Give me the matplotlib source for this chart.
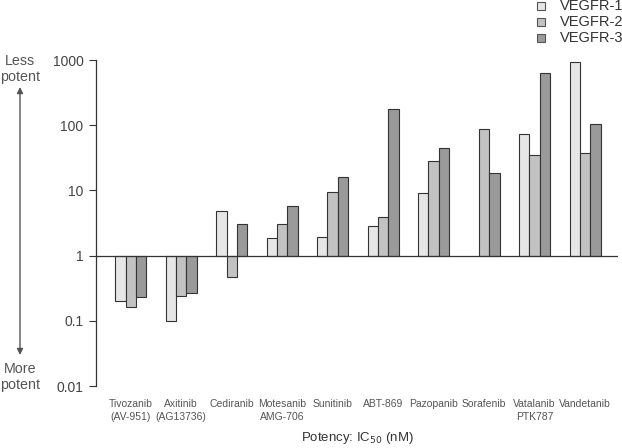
import numpy as np
import matplotlib
matplotlib.use("Agg")
import matplotlib.pyplot as plt
from matplotlib.patches import Rectangle

plt.rcParams['font.family'] = ['Liberation Sans', 'DejaVu Sans']

drugs = ["Tivozanib\n(AV-951)", "Axitinib\n(AG13736)", "Cediranib", "Motesanib\nAMG-706",
         "Sunitinib", "ABT-869", "Pazopanib", "Sorafenib", "Vatalanib\nPTK787", "Vandetanib"]
vegfr1 = [0.20, 0.10, 4.9, 1.87, 1.9, 2.85, 9.25, np.nan, 73.5, 945]
vegfr2 = [0.16, 0.24, 0.47, 3.0, 9.3, 3.96, 28.6, 86.5, 35, 37.6]
vegfr3 = [0.235, 0.27, 3.0, 5.85, 16.3, 180, 44, 18.5, 632, 105]
series = ["VEGFR-1", "VEGFR-2", "VEGFR-3"]
colors = ["#e6e6e6", "#c2c2c2", "#9a9a9a"]
yticks = [0.01, 0.1, 1, 10, 100, 1000]
ylabels = ["0.01", "0.1", "1", "10", "100", "1000"]

W, H = 622, 448
fig = plt.figure(figsize=(W/100, H/100), dpi=100)
ax = fig.add_axes([96/W, 1-386/H, 522/W, 326/H])

x = np.arange(len(drugs))
w = 0.207
for i, (vals, c) in enumerate(zip([vegfr1, vegfr2, vegfr3], colors)):
    v = np.array(vals, dtype=float)
    ax.bar(x + (i-1)*w, v - 1, bottom=1, width=w, color=c, edgecolor="#333333",
           linewidth=0.8, zorder=2)

ax.set_yscale("log")
ax.set_ylim(0.01, 1000)
ax.set_xlim(-0.688, 9.65)
ax.axhline(1, color="#333333", linewidth=0.9, zorder=3)
ax.set_yticks(yticks)
ax.set_yticklabels(ylabels, fontsize=10, color="#444444")
ax.yaxis.set_minor_locator(matplotlib.ticker.NullLocator())
ax.tick_params(axis='y', length=5, width=0.8, color="#333333", pad=4)
for s in ["top", "right", "bottom"]:
    ax.spines[s].set_visible(False)
ax.spines["left"].set_color("#333333")
ax.spines["left"].set_linewidth(0.9)
ax.set_xticks(x)
ax.set_xticklabels(drugs, fontsize=7.5, color="#555555", linespacing=1.4)
ax.tick_params(axis='x', length=0, pad=9)
ax.set_xlabel("Potency: IC$_{50}$ (nM)", fontsize=9.5, color="#333333", labelpad=6)

# left annotation
fig.text(20/W, 1-69/H, "Less\npotent", ha="center", va="center", fontsize=10.3,
         color="#555555", linespacing=1.2)
fig.text(20/W, 1-377/H, "More\npotent", ha="center", va="center", fontsize=10.3,
         color="#555555", linespacing=1.2)
ax.annotate("", xy=(20/W, 1-87/H), xytext=(20/W, 1-355/H),
            xycoords="figure fraction", textcoords="figure fraction",
            arrowprops=dict(arrowstyle="<|-|>", color="#555555", lw=1.0,
                            mutation_scale=9, shrinkA=0, shrinkB=0))

# legend (manual)
for i, (name, c) in enumerate(zip(series, colors)):
    yc = 6 + 16*i
    fig.patches.append(Rectangle((537/W, 1-(yc+4)/H), 8/W, 8/H, transform=fig.transFigure,
                                 facecolor=c, edgecolor="#555555", linewidth=0.8))
    fig.text(560/W, 1-yc/H, name, ha="left", va="center", fontsize=10.5, color="#333333")

fig.savefig("out.png", dpi=100)
